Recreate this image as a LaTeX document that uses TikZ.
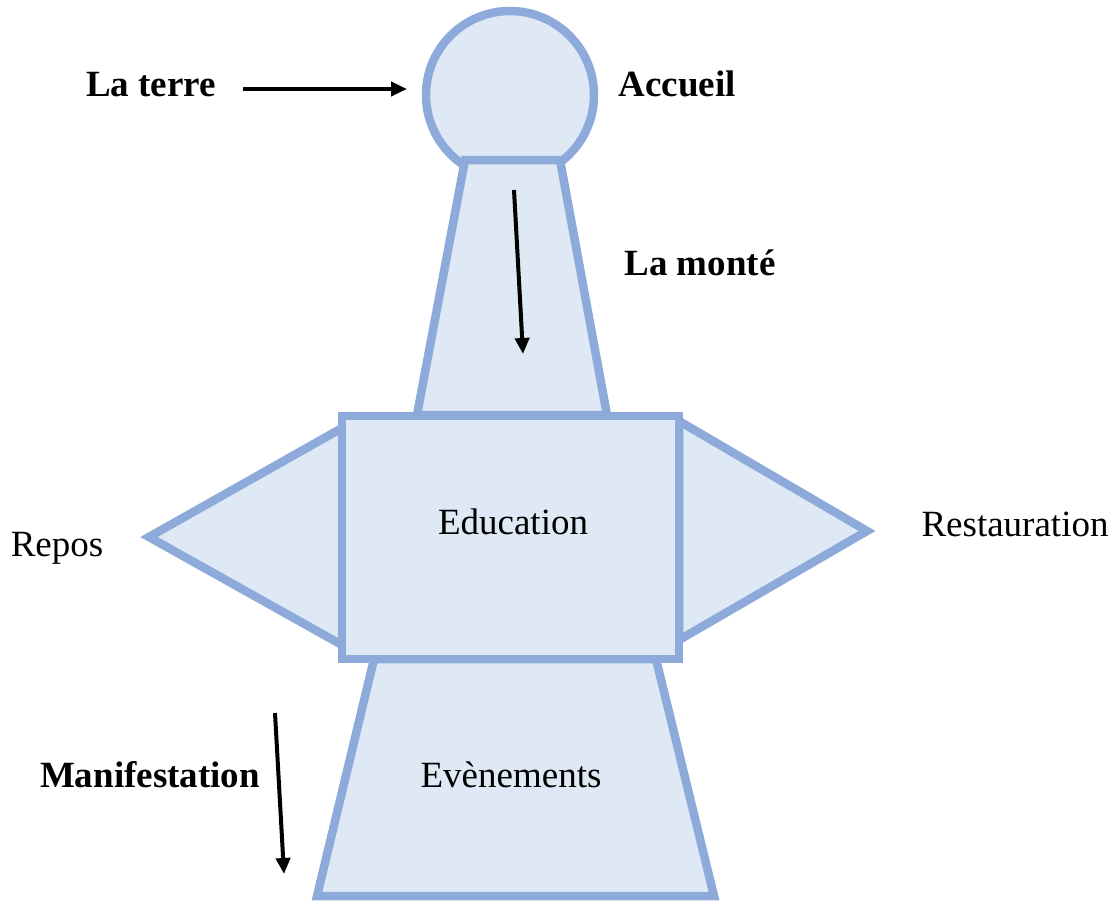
\documentclass[tikz,border=0pt]{standalone}
\usepackage{fontspec}
\setmainfont{Liberation Serif}
\newfontfamily\tnr{Liberation Serif}
\usetikzlibrary{arrows.meta}
\definecolor{shapefill}{HTML}{DEE9F5}
\definecolor{shapeline}{HTML}{8EAADB}
\begin{document}
\begin{tikzpicture}[x=1pt,y=-1pt,
  part/.style={draw=shapeline,fill=shapefill,line width=8.5pt,line join=miter},
  lbl/.style={font=\tnr\fontsize{37}{40}\selectfont,anchor=base,inner sep=0pt},
  blbl/.style={lbl,font=\tnr\fontsize{37}{40}\selectfont\bfseries},
  arr/.style={-{Triangle[length=16pt,width=14pt]},line width=4pt,black}]
\useasboundingbox (0,0) rectangle (1118,902);
% head
\draw[part] (510,95) circle[radius=84];
% neck
\draw[part] (465,160) -- (560,160) -- (607,415) -- (417,415) -- cycle;
% side triangles
\draw[part] (342,428) -- (149,537) -- (342,645) -- cycle;
\draw[part] (679,421) -- (867,531) -- (679,640) -- cycle;
% lower trapezoid
\draw[part] (374,659) -- (656,659) -- (714,896) -- (317,896) -- cycle;
% body
\draw[part] (342,416) rectangle (679,659);
% labels
\node[blbl] (terre) at (151,96) {La terre};
\node[blbl] (accueil) at (677,96) {Accueil};
\node[blbl] (monte) at (700,275) {La monté};
\node[lbl] (education) at (513,534) {Education};
\node[lbl] (repos) at (57,556) {Repos};
\node[lbl] (restau) at (1015,536) {Restauration};
\node[lbl] (evenements) at (511,787) {Evènements};
\node[blbl] (manif) at (150,787) {Manifestation};
% arrows
\coordinate (a1s) at (243,89);
\coordinate (a1e) at (407,89);
\coordinate (a2s) at (514,190);
\coordinate (a2e) at (523,354);
\coordinate (a3s) at (275,713);
\coordinate (a3e) at (284,874);
\draw[arr] (a1s) -- (a1e);
\draw[arr] (a2s) -- (a2e);
\draw[arr] (a3s) -- (a3e);
\end{tikzpicture}
\end{document}
